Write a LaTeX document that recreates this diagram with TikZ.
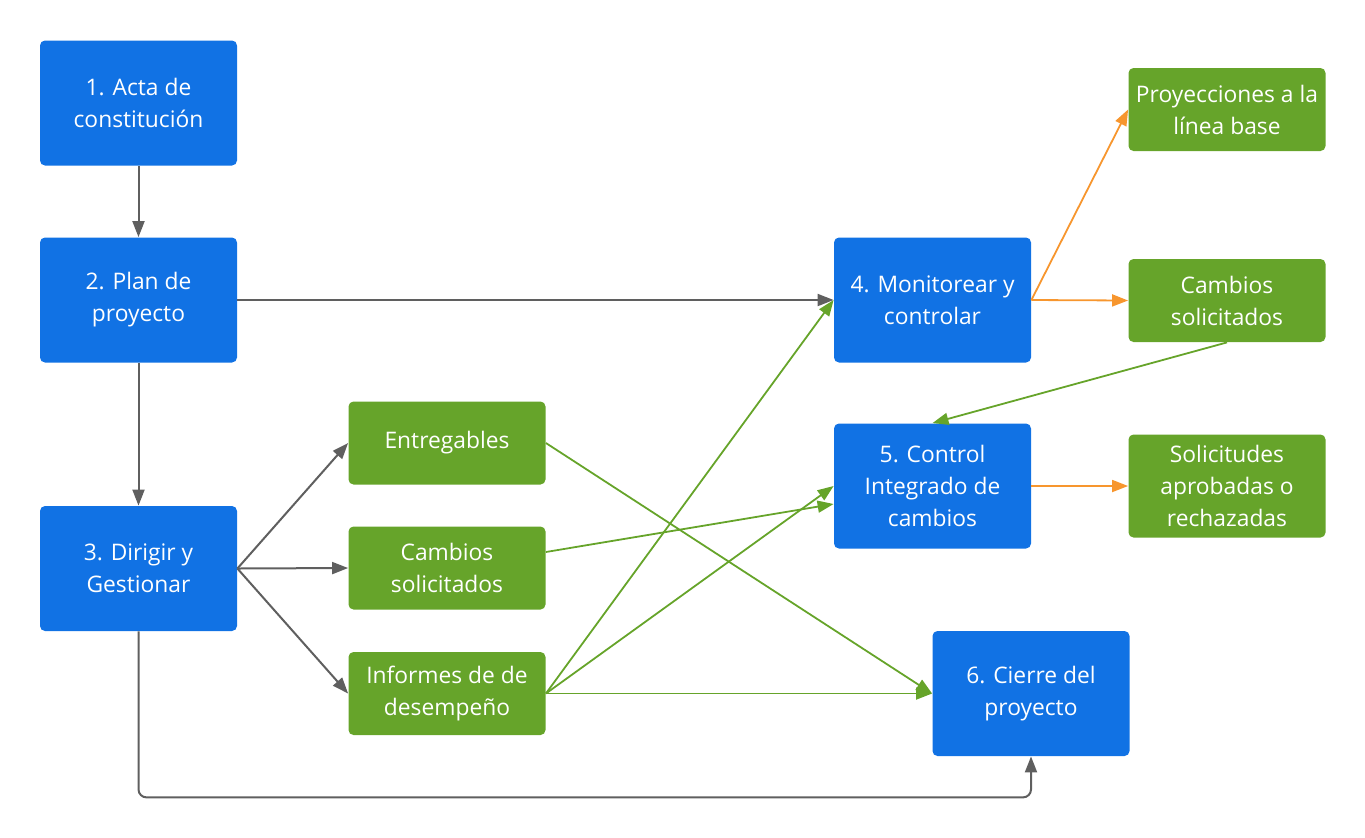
\documentclass[tikz,border=0pt]{standalone}
\usepackage{fontspec}
\setmainfont{Open Sans}
\usetikzlibrary{arrows.meta}
\usetikzlibrary{positioning}

\definecolor{phaseblue}{RGB}{17,114,228}
\definecolor{outgreen}{RGB}{102,164,42}
\definecolor{linegray}{RGB}{95,95,95}
\definecolor{lineorange}{RGB}{247,150,46}

\begin{document}
\begin{tikzpicture}[x=0.5pt,y=-0.5pt]
\tikzset{
    phase/.style={
              rectangle,
                   rounded corners=2.5pt,
                   fill=phaseblue,
                   text=white,
                   align=center,
                   inner sep=0pt,
                   minimum width=98.5pt,
                   minimum height=62.5pt,
                   font=\fontsize{11.4}{16}\selectfont
    },
    output/.style={
              phase,
                   fill=outgreen,
                   minimum height=41.5pt
    },
    flow/.style={draw=linegray, line width=1pt, -{Triangle[length=8pt,width=6pt]}},
    greenflow/.style={flow, draw=outgreen, fill=outgreen, line width=0.9pt},
    orangeflow/.style={flow, draw=lineorange, fill=lineorange, line width=0.9pt}
}
    \useasboundingbox (0,0) rectangle (1365,837);

    \node (acta)[phase] at (138.5,103) {1. Acta de\\constitución};
    \node (plan)[phase] at (138.5,300) {2. Plan de\\proyecto};
    \node (dirigir)[phase] at (138.5,568.5) {3. Dirigir y\\Gestionar};
    \node (monitor)[phase] at (932.5,300) {4. Monitorear y\\controlar};
    \node (control)[phase] at (932.5,486) {5. Control\\Integrado de\\cambios};
    \node (cierre)[phase] at (1031,693.5) {6. Cierre del\\proyecto};

    \node (entregables)[output] at (447,443) {Entregables};
    \node (cambiosA)[output] at (447,568) {Cambios\\solicitados};
    \node (informes)[output] at (447,693.5) {Informes de de\\desempeño};
    \node (proyecciones)[output] at (1227,109.5) {Proyecciones a la\\línea base};
    \node (cambiosB)[output] at (1227,300.5) {Cambios\\solicitados};
    \node (solicitudes)[output, minimum height=51.5pt] at (1227,486) {Solicitudes\\aprobadas o\\rechazadas};

    \draw[flow] (acta) -- (plan);
    \draw[flow] (plan) -- (dirigir);
    \draw[flow] (plan) -- (monitor);
    \draw[flow] (dirigir.east) -- (entregables.west);
    \draw[flow] (dirigir.east) -- (cambiosA.west);
    \draw[flow] (dirigir.east) -- (informes.west);
    \draw[flow, rounded corners=4pt] (dirigir.south) |- ([yshift=-20.5pt]cierre.south) -- (cierre.south);

    \draw[greenflow] (entregables.east) -- (cierre.west);
    \draw[greenflow] ([yshift=8pt]cambiosA.east) -- ([yshift=-9pt]control.west);
    \draw[greenflow] (informes.east) -- (monitor.west);
    \draw[greenflow] (informes.east) -- (control.west);
    \draw[greenflow] (informes.east) -- (cierre.west);
    \draw[greenflow] (cambiosB.south) -- (control.north);

    \draw[orangeflow] (monitor.east) -- (proyecciones.west);
    \draw[orangeflow] (monitor.east) -- (cambiosB.west);
    \draw[orangeflow] (control.east) -- (solicitudes.west);

\end{tikzpicture}
\end{document}
